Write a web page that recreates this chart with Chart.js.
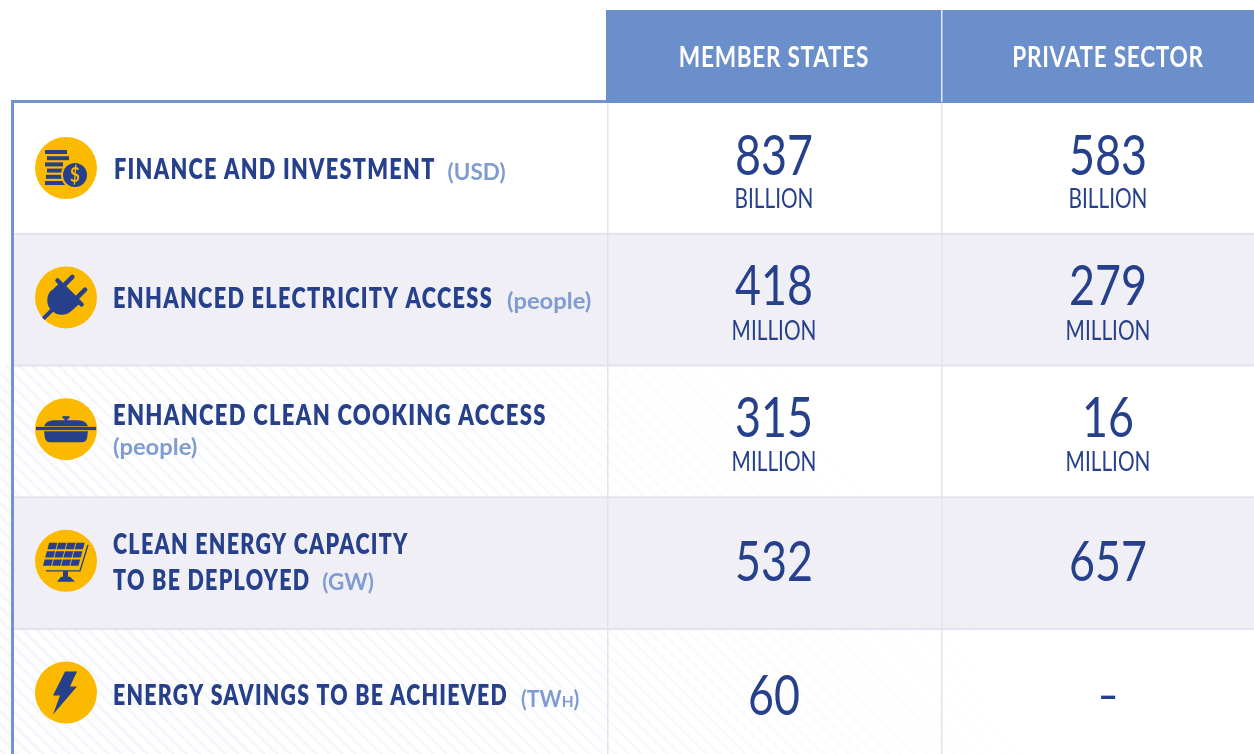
<!DOCTYPE html>
<html>
<head>
<meta charset="utf-8">
<title>Commitments table</title>
<script src="https://cdn.jsdelivr.net/npm/chart.js@4/dist/chart.umd.min.js"></script>
<style>
    html, body { margin: 0; padding: 0; background: #fff; overflow: hidden; }
    canvas { display: block; }
</style>
</head>
<body>
<canvas id="myChart" width="1254" height="754"></canvas>
<script>
// Table content
const columns = ['MEMBER STATES', 'PRIVATE SECTOR'];
const rowLabels = [
    ['FINANCE AND INVESTMENT'],
    ['ENHANCED ELECTRICITY ACCESS'],
    ['ENHANCED CLEAN COOKING ACCESS'],
    ['CLEAN ENERGY CAPACITY', 'TO BE DEPLOYED'],
    ['ENERGY SAVINGS TO BE ACHIEVED']
];
const rowNotes = ['(USD)', '(people)', '(people)', '(GW)', '(TWh)'];
const memberStates = [837, 418, 315, 532, 60];
const privateSector = [583, 279, 16, 657, null];
const units = ['BILLION', 'MILLION', 'MILLION', '', ''];
const iconNames = ['coins', 'plug', 'pot', 'solar', 'bolt'];

const NAVY = '#26408b';
const HEADER_BLUE = '#6b8fca';
const LINE_BLUE = '#7093d2';
const NOTE_BLUE = '#7f9bd2';
const GOLD = '#fbba00';
const BAND = '#efeff5';
const GRID = '#e2e3ee';
const FONT = 'Lato, "Noto Sans", sans-serif';

// Rows are one unit high, columns one unit wide, row 0 / column 1 sit at these pixels
const rowPx = 131.7, rowZero = 168;
const colPx = 334, colOne = 774;
const iconCol = 1 + (66 - colOne) / colPx;

// Small per row corrections for the text, in pixels
const labelLeft = [114, 113, 113, 113, 113];
const labelSqueeze = [0.76, 0.763, 0.772, 0.753, 0.747];
const labelNudge = [1, -2, 1, 0, 0];
const noteNudge = [1, 1, 0, 0, 2];
const noteSqueeze = [1.02, 1.08, 1.08, 1.02, 0.96];
const noteGap = [12, 14, 0, 12, 13];
const numberNudge = [0, -2, -1, 0, 2];

// draw horizontally squeezed text, x is the left edge or the center
function squeezedText(ctx, text, x, y, font, color, align, squeeze, spacing) {
    ctx.save();
    ctx.font = font;
    ctx.fillStyle = color;
    ctx.textAlign = align;
    ctx.textBaseline = 'alphabetic';
    ctx.letterSpacing = (spacing || 0) + 'px';
    ctx.translate(x, y);
    ctx.scale(squeeze, 1);
    ctx.fillText(text, 0, 0);
    ctx.restore();
}

// the note (TWh) is set with a small capital H
function drawNote(ctx, note, x, y, squeeze) {
    const font = '700 22px ' + FONT;
    if (note !== '(TWh)') {
        squeezedText(ctx, note, x, y, font, NOTE_BLUE, 'left', squeeze);
        return;
    }
    const small = '700 16px ' + FONT;
    ctx.save();
    ctx.font = font;
    const w1 = ctx.measureText('(TW').width * squeeze;
    ctx.font = small;
    const w2 = ctx.measureText('H').width * squeeze;
    ctx.restore();
    squeezedText(ctx, '(TW', x, y, font, NOTE_BLUE, 'left', squeeze);
    squeezedText(ctx, 'H', x + w1, y, small, NOTE_BLUE, 'left', squeeze);
    squeezedText(ctx, ')', x + w1 + w2, y, font, NOTE_BLUE, 'left', squeeze);
}

const icons = {
    coins(ctx) {
        const xs = [-21, -19, -21, -19, -20, -21];
        const ws = [22, 22, 18, 17, 16, 21];
        xs.forEach((x, i) => ctx.fillRect(x, -18 + i * 6.2, ws[i], 4));
        ctx.fillStyle = GOLD;
        ctx.beginPath(); ctx.arc(9, 7, 14, 0, Math.PI * 2); ctx.fill();
        ctx.fillStyle = NAVY;
        ctx.beginPath(); ctx.arc(9, 7, 12, 0, Math.PI * 2); ctx.fill();
        squeezedText(ctx, '$', 9, 14, '700 20px ' + FONT, GOLD, 'center', 0.85);
    },
    plug(ctx) {
        ctx.rotate(-Math.PI / 4);
        // head
        ctx.beginPath();
        ctx.moveTo(7, -15);
        ctx.lineTo(-5, -15);
        ctx.arc(-5, -1, 14.5, -Math.PI / 2, Math.PI / 2, true);
        ctx.lineTo(7, 14);
        ctx.closePath();
        ctx.fill();
        ctx.strokeStyle = NAVY;
        ctx.lineCap = 'round';
        // flat edge with its small nubs
        ctx.lineWidth = 4.5;
        ctx.beginPath(); ctx.moveTo(6, -18); ctx.lineTo(6, 16); ctx.stroke();
        // prongs
        [-10, 8].forEach(y => {
            ctx.beginPath(); ctx.moveTo(6, y); ctx.lineTo(19, y); ctx.stroke();
        });
        // cord
        ctx.lineCap = 'butt';
        ctx.lineWidth = 4;
        ctx.beginPath(); ctx.moveTo(-18, -1); ctx.lineTo(-31, -1); ctx.stroke();
    },
    pot(ctx) {
        ctx.fillRect(-30, -2.3, 60, 3.3);
        ctx.beginPath();
        ctx.moveTo(-22, -3);
        ctx.quadraticCurveTo(-20, -9, -12, -9);
        ctx.lineTo(12, -9);
        ctx.quadraticCurveTo(20, -9, 22, -3);
        ctx.closePath();
        ctx.fill();
        ctx.fillRect(-3.5, -13, 7, 2.4);
        ctx.fillRect(-1.5, -12, 3, 4);
        ctx.beginPath();
        ctx.moveTo(-22, 2);
        ctx.lineTo(22, 2);
        ctx.lineTo(21, 9);
        ctx.quadraticCurveTo(20, 13, 16, 13);
        ctx.lineTo(-16, 13);
        ctx.quadraticCurveTo(-20, 13, -21, 9);
        ctx.closePath();
        ctx.fill();
    },
    solar(ctx) {
        // skewed 4 x 3 panel
        const topY = -18, cellW = 8.2, cellH = 6.4, skew = 0.27;
        for (let r = 0; r < 3; r++) {
            for (let c = 0; c < 4; c++) {
                const y = topY + r * (cellH + 1.9);
                const x = -17 + c * (cellW + 0.9) + (topY + 26 - (y - topY)) * skew - 2;
                ctx.beginPath();
                ctx.moveTo(x, y);
                ctx.lineTo(x + cellW, y);
                ctx.lineTo(x + cellW - cellH * skew, y + cellH);
                ctx.lineTo(x - cellH * skew, y + cellH);
                ctx.closePath();
                ctx.fill();
            }
        }
        ctx.strokeStyle = NAVY;
        ctx.lineWidth = 1.4;
        ctx.beginPath();
        ctx.moveTo(22, -16);
        ctx.lineTo(14, 10);
        ctx.lineTo(-20, 10);
        ctx.stroke();
        ctx.fillRect(-3, 10, 5, 9);
        ctx.beginPath();
        ctx.moveTo(-9, 21); ctx.lineTo(-5, 16); ctx.lineTo(4, 16); ctx.lineTo(9, 21);
        ctx.closePath();
        ctx.fill();
    },
    bolt(ctx) {
        ctx.beginPath();
        ctx.moveTo(-1, -21);
        ctx.lineTo(11, -21);
        ctx.lineTo(4, -6);
        ctx.lineTo(11, -6);
        ctx.lineTo(-13, 22);
        ctx.lineTo(-6, 3);
        ctx.lineTo(-13, 3);
        ctx.closePath();
        ctx.fill();
    }
};

// row bands, hatching, rules and header cells, placed through the scales
const tableGrid = {
    id: 'tableGrid',
    beforeDatasetsDraw(chart) {
        const { ctx, scales: { x, y }, chartArea: area } = chart;
        const rowTop = i => y.getPixelForValue(i - 0.5);
        const colLeft = c => x.getPixelForValue(c - 0.5);
        const tableLeft = 12, tableTop = 102;
        ctx.save();

        // faint diagonal hatching on the paper, fading towards the upper right
        const startY = rowTop(2);
        const fade = ctx.createLinearGradient(250, 754, 850, 380);
        fade.addColorStop(0, '#f5f6fb');
        fade.addColorStop(0.55, '#f9fafd');
        fade.addColorStop(1, '#ffffff');
        ctx.strokeStyle = fade;
        ctx.lineWidth = 3;
        for (let d = -800; d < 1000; d += 13) {
            ctx.beginPath();
            ctx.moveTo(d, startY);
            ctx.lineTo(d + 430, startY + 430);
            ctx.stroke();
        }
        ctx.restore();
        ctx.save();

        // shaded rows
        ctx.fillStyle = BAND;
        [1, 3].forEach(i => ctx.fillRect(tableLeft, rowTop(i), area.right - tableLeft, rowTop(i + 1) - rowTop(i)));

        // rules between rows
        ctx.fillStyle = GRID;
        [1, 2, 3, 4].forEach(i => ctx.fillRect(tableLeft, rowTop(i) - 1, area.right - tableLeft, 2));
        [1, 2].forEach(c => ctx.fillRect(colLeft(c), tableTop, 1.5, area.bottom - tableTop));

        // header
        ctx.fillStyle = HEADER_BLUE;
        ctx.fillRect(colLeft(1) - 1, 10, area.right - colLeft(1) + 1, tableTop - 9);
        ctx.fillStyle = '#e6e8f3';
        ctx.fillRect(colLeft(2), 10, 1.5, tableTop - 10);

        // table outline
        ctx.fillStyle = LINE_BLUE;
        ctx.fillRect(11, tableTop - 2, colLeft(1) - 11, 3);
        ctx.fillRect(11, tableTop - 2, 3, area.bottom - tableTop + 2);
        ctx.restore();
    }
};

// everything written in the cells, hung on the dataset points
const cellText = {
    id: 'cellText',
    afterDatasetsDraw(chart) {
        const { ctx } = chart;

        chart.getDatasetMeta(0).data.forEach((pt, i) => {
            ctx.save();
            ctx.translate(pt.x, pt.y);
            ctx.fillStyle = NAVY;
            icons[iconNames[i]](ctx);
            ctx.restore();
        });

        // headers
        columns.forEach((name, c) => {
            const cx = chart.scales.x.getPixelForValue(c + 1);
            squeezedText(ctx, name, cx, 67, '700 29px ' + FONT, '#ffffff', 'center', 0.78, 0.9);
        });

        // row labels
        const spacing = 1.7;
        rowLabels.forEach((lines, i) => {
            const cy = chart.scales.y.getPixelForValue(i);
            const font = '800 28.5px ' + FONT;
            const two = lines.length > 1;
            lines.forEach((text, l) => {
                const base = two ? cy - 9 + l * 36 : (i === 2 ? cy - 7 : cy + 10);
                squeezedText(ctx, text, labelLeft[i], base + labelNudge[i], font, NAVY, 'left', labelSqueeze[i], spacing);
            });
            // note in lighter blue, after the label or on the next line
            if (i === 2) {
                drawNote(ctx, rowNotes[i], labelLeft[i], cy + 24, noteSqueeze[i]);
            } else {
                ctx.save();
                ctx.font = font;
                ctx.letterSpacing = spacing + 'px';
                const last = lines[lines.length - 1];
                const end = labelLeft[i] + ctx.measureText(last).width * labelSqueeze[i];
                ctx.restore();
                const base = (two ? cy + 27 : cy + 10) + labelNudge[i] + noteNudge[i];
                drawNote(ctx, rowNotes[i], end + noteGap[i], base, noteSqueeze[i]);
            }
        });

        // values
        [memberStates, privateSector].forEach((values, ds) => {
            chart.getDatasetMeta(ds + 1).data.forEach((pt, i) => {
                const v = values[i];
                const hasUnit = units[i] !== '';
                const numY = (hasUnit ? pt.y + 7 : pt.y + 18) + numberNudge[i];
                if (v === null) {
                    squeezedText(ctx, '-', pt.x, pt.y + 16, '400 44px ' + FONT, NAVY, 'center', 1.3);
                } else {
                    squeezedText(ctx, String(v), pt.x, numY, '400 56px ' + FONT, NAVY, 'center', 0.8);
                }
                if (hasUnit) {
                    squeezedText(ctx, units[i], pt.x, pt.y + 40, '400 26px ' + FONT, NAVY, 'center', 0.8);
                }
            });
        });
    }
};

const rowIndex = rowLabels.map((_, i) => i);

const config = {
    type: 'scatter',
    data: {
        datasets: [
            {
                label: 'Icons',
                data: rowIndex.map(i => ({ x: iconCol, y: i - (i === 0 ? 0 : 0.017) })),
                pointRadius: 31,
                pointBackgroundColor: GOLD,
                pointBorderWidth: 0
            },
            {
                label: columns[0],
                data: rowIndex.map(i => ({ x: 1, y: i })),
                pointRadius: 0
            },
            {
                label: columns[1],
                data: rowIndex.map(i => ({ x: 2, y: i })),
                pointRadius: 0
            }
        ]
    },
    options: {
        responsive: false,
        animation: false,
        layout: { padding: 0, autoPadding: false },
        plugins: { legend: { display: false }, tooltip: { enabled: false } },
        scales: {
            x: {
                type: 'linear',
                display: false,
                min: 1 - colOne / colPx,
                max: 1 + (1254 - colOne) / colPx
            },
            y: {
                type: 'linear',
                display: false,
                reverse: true,
                min: -rowZero / rowPx,
                max: (754 - rowZero) / rowPx
            }
        }
    },
    plugins: [tableGrid, cellText]
};

const myChart = new Chart(document.getElementById('myChart'), config);
</script>
</body>
</html>
